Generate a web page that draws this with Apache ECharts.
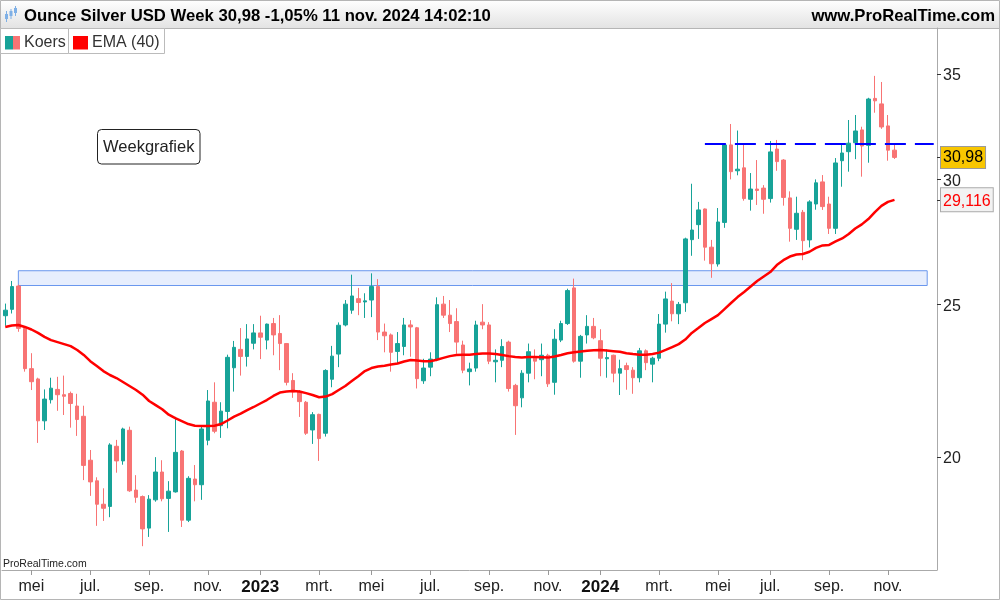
<!DOCTYPE html>
<html>
<head>
<meta charset="utf-8">
<script src="https://cdn.jsdelivr.net/npm/echarts@6/dist/echarts.min.js"></script>
<style>
html,body{margin:0;padding:0;background:#fff;}
#chart{width:1000px;height:600px;}
</style>
</head>
<body>
<div id="chart"></div>
<script>
// ---- data (weekly, Ounce Silver USD) ----
const startWeek = '2022-04-04';
const extraWeeks = 6;
const open = [24.58,24.81,25.67,24.13,22.75,22.41,21.08,21.74,22.07,21.90,
21.94,21.54,21.22,19.90,19.31,18.66,18.60,20.31,19.88,20.79,
19.05,18.87,18.02,18.78,19.56,18.82,19.00,20.17,18.23,19.36,
19.20,20.49,21.66,20.93,21.37,22.78,23.40,23.16,23.61,23.97,
23.72,24.30,23.95,23.60,22.36,21.99,21.66,20.80,21.28,20.70,
22.40,23.24,24.25,24.78,25.20,25.08,25.15,25.65,24.00,23.90,
23.33,23.50,24.25,24.15,22.35,22.80,23.07,25.00,24.60,24.37,
23.55,22.65,22.77,24.35,24.25,22.98,23.03,23.65,22.20,21.80,
22.60,23.10,23.05,23.20,22.30,23.72,24.30,25.60,23.00,23.90,
24.20,23.70,23.08,23.20,22.60,22.85,22.70,22.45,23.35,22.90,
23.10,24.28,25.11,24.65,25.05,27.47,28.08,28.73,27.17,26.51,
28.17,31.55,30.38,30.51,29.14,29.58,29.62,29.17,31.36,30.86,
29.20,27.89,28.59,27.46,28.94,29.89,28.94,27.93,30.83,31.24,
31.65,32.25,31.53,33.77,33.50,32.44,31.31];
const high = [25.02,25.86,25.72,24.15,23.27,22.45,22.07,22.45,22.48,22.52,
22.00,21.93,21.55,20.20,19.41,19.10,20.40,20.50,20.87,20.90,
19.47,18.90,18.91,19.99,19.90,19.30,21.20,20.20,19.44,19.76,
20.91,22.05,22.30,21.66,23.22,23.69,24.14,24.28,24.28,24.58,
24.30,24.50,24.60,23.62,22.60,22.05,21.70,21.35,21.30,22.73,
23.52,24.34,25.15,26.10,25.60,25.40,26.15,25.93,24.30,23.95,
24.00,24.50,24.42,24.18,23.08,23.30,25.25,25.30,25.15,24.85,
23.70,22.95,24.40,25.00,24.35,23.40,23.75,23.70,22.25,22.70,
23.60,23.40,23.60,23.25,24.10,24.40,25.57,25.95,23.90,24.60,
24.50,24.10,23.40,23.22,23.05,22.95,22.80,23.45,23.40,23.15,
24.64,25.46,25.78,25.08,27.55,29.81,29.03,28.75,27.46,28.77,
31.60,32.53,32.22,31.55,30.28,30.86,29.75,31.73,31.78,30.90,
29.48,29.25,28.69,29.10,30.00,30.19,29.25,30.95,31.62,32.72,
32.96,32.40,33.80,34.90,34.59,32.96,31.55];
const low = [24.22,24.66,24.01,22.65,22.05,20.41,20.80,21.62,21.39,21.26,
20.87,20.62,19.33,18.89,18.08,18.21,18.31,19.54,19.77,19.00,
18.70,17.55,17.79,18.73,18.74,17.92,18.98,18.05,18.18,18.74,
18.78,20.34,20.70,20.56,20.85,22.00,22.52,22.82,23.40,23.07,
23.40,23.20,22.70,22.20,21.80,21.20,20.65,20.38,19.88,20.60,
22.14,22.80,24.20,24.65,24.60,24.50,24.53,23.72,23.30,22.65,
22.90,23.20,23.15,22.10,22.25,22.50,23.00,24.50,24.00,23.25,
22.60,22.20,22.65,24.10,22.90,22.30,22.80,22.00,20.65,21.50,
22.30,22.40,22.50,22.15,21.90,23.65,24.25,22.95,22.45,23.60,
23.75,22.50,22.45,22.30,21.89,22.06,21.93,22.30,22.70,22.30,
23.00,23.98,24.38,24.28,24.72,26.83,27.50,26.64,25.98,26.41,
27.95,30.00,30.18,29.08,28.66,28.90,28.53,29.00,30.38,28.87,
27.39,27.46,26.66,27.16,28.70,28.69,27.70,27.70,29.68,30.34,
30.90,30.12,30.74,33.07,32.30,30.83,30.91];
const close = [24.78,25.65,24.13,22.75,22.32,21.08,21.76,22.11,21.90,21.85,
21.62,21.12,19.75,19.28,18.66,18.55,20.35,19.88,20.83,19.03,
18.85,18.00,18.80,19.56,18.81,19.02,20.13,18.23,19.38,19.20,
20.83,21.70,20.76,21.38,23.13,23.47,23.16,23.76,23.97,23.82,
24.28,23.90,23.60,22.30,21.99,21.68,20.70,21.27,20.54,22.69,
23.17,24.24,25.00,25.30,25.06,25.12,25.65,24.00,23.87,23.30,
23.60,24.25,24.18,22.42,22.77,23.07,24.98,24.60,24.30,23.65,
22.70,22.74,24.25,24.25,23.00,23.03,23.50,22.10,21.55,22.60,
23.32,23.00,23.20,22.25,23.75,24.30,25.50,23.00,23.85,24.20,
23.80,23.10,23.12,22.60,22.75,22.72,22.45,23.35,22.95,23.10,
24.28,25.19,24.65,24.99,27.50,27.86,28.69,27.17,26.52,28.19,
31.55,30.34,30.45,29.17,29.58,29.52,29.14,31.23,30.79,29.22,
27.93,28.55,27.43,29.03,29.85,28.83,27.93,30.73,31.18,31.63,
32.20,31.50,33.74,33.65,32.39,31.31,30.98];
const ema40 = [24.18,24.23,24.25,24.18,24.09,23.97,23.83,23.72,23.65,23.58,
23.51,23.38,23.21,23.00,22.84,22.67,22.54,22.44,22.31,22.18,
22.05,21.90,21.70,21.57,21.44,21.27,21.16,21.07,20.98,20.93,
20.92,20.92,20.93,20.98,21.09,21.21,21.30,21.41,21.51,21.62,
21.73,21.86,21.97,22.00,22.02,22.00,21.95,21.89,21.82,21.84,
21.92,22.05,22.18,22.34,22.50,22.67,22.77,22.82,22.85,22.89,
22.92,22.99,23.04,23.02,23.00,23.00,23.05,23.11,23.17,23.21,
23.22,23.22,23.24,23.26,23.26,23.24,23.21,23.17,23.14,23.12,
23.14,23.14,23.13,23.12,23.16,23.21,23.27,23.30,23.33,23.35,
23.37,23.38,23.36,23.34,23.32,23.27,23.24,23.22,23.22,23.24,
23.29,23.38,23.48,23.58,23.74,23.97,24.14,24.32,24.46,24.60,
24.82,25.04,25.26,25.45,25.65,25.86,26.03,26.20,26.47,26.66,
26.80,26.88,26.90,26.99,27.14,27.24,27.26,27.40,27.52,27.70,
27.92,28.09,28.31,28.60,28.86,29.03,29.116];
const monthTicks = [
  ['2022-05-02','mei'],['2022-07-04','jul.'],['2022-09-05','sep.'],['2022-11-07','nov.'],
  ['2023-01-02','2023'],['2023-03-06','mrt.'],['2023-05-01','mei'],['2023-07-03','jul.'],
  ['2023-09-04','sep.'],['2023-11-06','nov.'],['2024-01-01','2024'],['2024-03-04','mrt.'],
  ['2024-05-06','mei'],['2024-07-01','jul.'],['2024-09-02','sep.'],['2024-11-04','nov.']
];
const priceTicks = [20, 25, 30, 35];
const zoneLow = 25.69, zoneHigh = 26.25;
const zoneFrom = '2022-04-18', zoneTo = '2024-12-16';
const resistance = 31.61;
const resistanceFrom = '2024-04-22';
const axisMinPrice = 16.95, axisMaxPrice = 37.43;

// ---- build ----
const ln = Math.log;
const nWeeks = close.length + extraWeeks;
const t0 = Date.parse(startWeek + 'T00:00:00Z');
const categories = [];
for (let i = 0; i < nWeeks; i++) {
  categories.push(new Date(t0 + i * 7 * 864e5).toISOString().slice(0, 10));
}
const tickMap = {};
monthTicks.forEach(([d, l]) => { tickMap[d] = l; });
const candles = close.map((c, i) => [ln(open[i]), ln(c), ln(low[i]), ln(high[i])]);
const emaLn = ema40.map(v => ln(v));
const lastClose = close[close.length - 1];
const prevClose = close[close.length - 2];
const lastEma = ema40[ema40.length - 1];
const comma = (v, n) => v.toFixed(n).replace('.', ',');
const pct = (lastClose / prevClose - 1) * 100;
const yVals = priceTicks.map(ln).concat([ln(lastClose), ln(lastEma)]);

const FONT = '"Liberation Sans", Arial, Helvetica, sans-serif';
const UP = '#17a398', DOWN = '#f87474';

const chart = echarts.init(document.getElementById('chart'), null, {renderer: 'canvas'});
chart.setOption({
  animation: false,
  backgroundColor: '#ffffff',
  grid: {left: 2, right: 63, top: 28, bottom: 30, containLabel: false, outerBoundsMode: 'none'},
  xAxis: {
    type: 'category',
    data: categories,
    boundaryGap: true,
    axisLine: {show: true, lineStyle: {color: '#aaaaaa', width: 1}},
    axisTick: {show: true, alignWithLabel: true, length: 5, interval: (i, v) => v in tickMap, lineStyle: {color: '#999999'}},
    axisLabel: {
      show: true,
      interval: (i, v) => v in tickMap,
      margin: 9,
      color: '#222222',
      fontFamily: FONT,
      fontSize: 16,
      formatter: v => {
        const s = tickMap[v] || '';
        return /^\d{4}$/.test(s) ? '{y|' + s + '}' : s;
      },
      rich: {y: {fontWeight: 'bold', fontSize: 17, color: '#111111', fontFamily: FONT}}
    },
    splitLine: {show: false}
  },
  yAxis: {
    type: 'value',
    position: 'right',
    min: ln(axisMinPrice),
    max: ln(axisMaxPrice),
    splitLine: {show: false},
    axisLine: {show: true, lineStyle: {color: '#aaaaaa', width: 1}},
    axisTick: {show: true, inside: false, length: 4, customValues: yVals, lineStyle: {color: '#333333'}},
    axisLabel: {
      show: true,
      margin: 4,
      customValues: yVals,
      formatter: v => {
        if (Math.abs(v - ln(lastClose)) < 1e-6) return '{cur|' + comma(lastClose, 2) + '}';
        if (Math.abs(v - ln(lastEma)) < 1e-6) return '{ema|' + comma(lastEma, 3) + '}';
        return '{p|' + Math.round(Math.exp(v)) + '}';
      },
      rich: {
        p: {color: '#222222', fontSize: 16, fontFamily: FONT, padding: [4, 0, 0, 2]},
        cur: {color: '#000000', fontSize: 16, fontFamily: FONT, backgroundColor: '#f8c600',
              borderColor: '#9a9a9a', borderWidth: 1, padding: [3, 2, 2, 2]},
        ema: {color: '#ff0000', fontSize: 16, fontFamily: FONT, backgroundColor: '#f2f2f2',
              borderColor: '#aaaaaa', borderWidth: 1, padding: [5, 2, 2, 2]}
      }
    }
  },
  series: [
    {
      name: 'Koers',
      type: 'candlestick',
      data: candles,
      barWidth: 4,
      itemStyle: {color: UP, color0: DOWN, borderColor: UP, borderColor0: DOWN, borderWidth: 1},
      markArea: {
        silent: true,
        label: {show: false},
        itemStyle: {color: '#e7eefd', borderColor: '#6a97ee', borderWidth: 1},
        data: [[{xAxis: zoneFrom, yAxis: ln(zoneHigh)}, {xAxis: zoneTo, yAxis: ln(zoneLow)}]]
      },
      markLine: {
        silent: true,
        symbol: ['none', 'none'],
        label: {show: false},
        lineStyle: {color: '#0000ff', width: 2, type: [21, 9]},
        data: [[{xAxis: resistanceFrom, yAxis: ln(resistance)}, {xAxis: categories[nWeeks - 1], yAxis: ln(resistance)}]]
      }
    },
    {
      name: 'EMA (40)',
      type: 'line',
      data: emaLn,
      showSymbol: false,
      symbol: 'none',
      smooth: false,
      lineStyle: {color: '#ff0000', width: 2.5},
      itemStyle: {color: '#ff0000'}
    }
  ],
  graphic: [
    {type: 'rect', z: 0, shape: {x: 0, y: 0, width: 1000, height: 28},
     style: {fill: {type: 'linear', x: 0, y: 0, x2: 0, y2: 1, colorStops: [{offset: 0, color: '#ffffff'}, {offset: 1, color: '#e3e3e3'}]}}},
    {type: 'line', shape: {x1: 0, y1: 28.5, x2: 1000, y2: 28.5}, style: {stroke: '#b5b5b5', lineWidth: 1}},
    {type: 'rect', shape: {x: 0.5, y: 0.5, width: 999, height: 599}, style: {fill: 'none', stroke: '#b5b5b5', lineWidth: 1}},
    // header icon
    {type: 'line', shape: {x1: 6.5, y1: 11, x2: 6.5, y2: 22}, style: {stroke: '#7fb0e6', lineWidth: 1}},
    {type: 'rect', shape: {x: 5, y: 14, width: 3, height: 5}, style: {fill: '#7fb0e6'}},
    {type: 'line', shape: {x1: 11, y1: 9, x2: 11, y2: 19}, style: {stroke: '#7fb0e6', lineWidth: 1}},
    {type: 'rect', shape: {x: 9.5, y: 11, width: 3, height: 5}, style: {fill: '#7fb0e6'}},
    {type: 'line', shape: {x1: 15.5, y1: 6, x2: 15.5, y2: 16}, style: {stroke: '#7fb0e6', lineWidth: 1}},
    {type: 'rect', shape: {x: 14, y: 8, width: 3, height: 5}, style: {fill: '#7fb0e6'}},
    {type: 'text', style: {text: 'Ounce Silver USD Week ' + comma(lastClose, 2) + ' ' + comma(pct, 2) + '% 11 nov. 2024 14:02:10',
      x: 24, y: 16, font: 'bold 16.7px ' + FONT, fill: '#000000', verticalAlign: 'middle', textVerticalAlign: 'middle'}},
    {type: 'text', style: {text: 'www.ProRealTime.com', x: 995, y: 16, font: 'bold 16.7px ' + FONT, fill: '#000000',
      align: 'right', textAlign: 'right', verticalAlign: 'middle', textVerticalAlign: 'middle'}},
    // legend
    {type: 'rect', shape: {x: 0.5, y: 28.5, width: 68, height: 25}, style: {fill: '#ffffff', stroke: '#bbbbbb', lineWidth: 1}},
    {type: 'rect', shape: {x: 68.5, y: 28.5, width: 96, height: 25}, style: {fill: '#ffffff', stroke: '#bbbbbb', lineWidth: 1}},
    {type: 'rect', shape: {x: 5, y: 36, width: 8, height: 13.5}, style: {fill: UP}},
    {type: 'rect', shape: {x: 13, y: 36, width: 7, height: 13.5}, style: {fill: DOWN}},
    {type: 'text', style: {text: 'Koers', x: 24, y: 43, font: '16px ' + FONT, fill: '#333333', verticalAlign: 'middle', textVerticalAlign: 'middle'}},
    {type: 'rect', shape: {x: 73, y: 36, width: 15, height: 13.5}, style: {fill: '#ff0000'}},
    {type: 'text', style: {text: 'EMA (40)', x: 92, y: 43, font: '16px ' + FONT, fill: '#333333', verticalAlign: 'middle', textVerticalAlign: 'middle'}},
    // annotation
    {type: 'rect', shape: {x: 97.5, y: 129.5, width: 102.5, height: 34.5, r: 4}, style: {fill: '#ffffff', stroke: '#222222', lineWidth: 1}},
    {type: 'text', style: {text: 'Weekgrafiek', x: 148.7, y: 147, font: '16.5px ' + FONT, fill: '#222222',
      align: 'center', textAlign: 'center', verticalAlign: 'middle', textVerticalAlign: 'middle'}},
    {type: 'text', style: {text: 'ProRealTime.com', x: 3, y: 564, font: '10.5px ' + FONT, fill: '#222222', verticalAlign: 'middle', textVerticalAlign: 'middle'}}
  ]
});
</script>
</body>
</html>
